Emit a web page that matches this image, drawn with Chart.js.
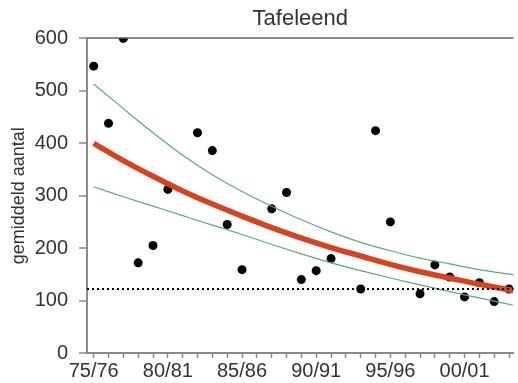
<!DOCTYPE html>
<html>
<head>
<meta charset="utf-8">
<script src="https://cdn.jsdelivr.net/npm/chart.js@4"></script>
<style>
  html, body { margin: 0; padding: 0; background: #fff; }
  #wrap { width: 518px; height: 383px; }
</style>
</head>
<body>
<div id="wrap"><canvas id="chart"></canvas></div>
<script>
const seasons = ['75/76','76/77','77/78','78/79','79/80','80/81','81/82','82/83','83/84','84/85',
  '85/86','86/87','87/88','88/89','89/90','90/91','91/92','92/93','93/94','94/95',
  '95/96','96/97','97/98','98/99','99/00','00/01','01/02','02/03','03/04']

// gemiddeld aantal per seizoen (null = geen telling)
const counts = [547, 438, 600, 172, 205, 312, null, 420, 386, 245,
  159, null, 275, 306, 140, 157, 180, null, 122, 424,
  250, null, 113, 168, 145, 107, 134, 98, 122]

const trendX = [0, 2, 4, 6, 8, 10, 12, 14, 16, 18, 20, 22, 24, 26, 28.3]
const trend = [400, 367, 337, 309, 284, 261, 239, 219, 201, 185, 169, 155, 143, 131, 119]
const upper = [513, 466, 420, 377, 340, 308, 280, 254, 231, 211, 195, 181, 170, 159, 149]
const lower = [317, 298, 280, 262, 244, 226, 207, 189, 172, 157, 143, 130, 117, 105, 91]

const refLevel = 122

const axisGrey = '#8a8a8a'
const textGrey = '#333'
const font = 'Liberation Sans, Arial, sans-serif'

const pts = counts.map((v, i) => ({x: i, y: v})).filter(p => p.y !== null)
const line = arr => arr.map((v, i) => ({x: trendX[i], y: v}))

new Chart(document.getElementById('chart'), {
  type: 'scatter',
  data: {
    datasets: [
      {
        data: [{x: -0.45, y: refLevel}, {x: 28.3, y: refLevel}],
        showLine: true, borderColor: '#000', borderWidth: 2, borderDash: [2, 3],
        pointRadius: 0
      },
      {
        data: line(upper), showLine: true, borderColor: '#5ea97a', borderWidth: 1.2,
        pointRadius: 0, cubicInterpolationMode: 'monotone'
      },
      {
        data: line(lower), showLine: true, borderColor: '#5ea97a', borderWidth: 1.2,
        pointRadius: 0, cubicInterpolationMode: 'monotone'
      },
      {
        data: line(trend), showLine: true, borderColor: '#d6441f', borderWidth: 5.5,
        pointRadius: 0, cubicInterpolationMode: 'monotone'
      },
      {
        data: pts, pointRadius: 4.5, pointBackgroundColor: '#000', pointBorderWidth: 0,
        borderWidth: 0
      }
    ]
  },
  options: {
    responsive: true,
    maintainAspectRatio: false,
    animation: false,
    layout: { padding: 0 },
    plugins: {
      legend: { display: false },
      tooltip: { enabled: false },
      title: {
        display: true, text: 'Tafeleend', fullSize: false, color: textGrey,
        font: { family: font, size: 22, weight: 'normal', lineHeight: 1.2 },
        padding: { top: 6, bottom: 6 }
      }
    },
    scales: {
      x: {
        type: 'linear', min: -0.45, max: 28.3,
        afterBuildTicks: s => { s.ticks = seasons.map((_, i) => ({value: i})) },
        afterFit: s => { s.height = 30 },
        border: { display: true, color: axisGrey, width: 2 },
        grid: { drawOnChartArea: false, drawTicks: true, tickLength: 5, tickColor: axisGrey, tickWidth: 1.5 },
        ticks: {
          autoSkip: false, maxRotation: 0, padding: 1, color: textGrey,
          font: { family: font, size: 20 },
          callback: v => (v % 5 === 0 ? seasons[v] : '')
        }
      },
      y: {
        min: 0, max: 600,
        afterFit: s => { s.width = 87 },
        border: { display: true, color: axisGrey, width: 2 },
        grid: {
          drawOnChartArea: true, drawTicks: true, tickLength: 8, tickWidth: 1.5, tickColor: axisGrey,
          lineWidth: 2,
          color: c => (c.tick && c.tick.value === 600 ? axisGrey : 'rgba(0,0,0,0)')
        },
        ticks: {
          stepSize: 100, padding: 11, color: textGrey,
          font: { family: font, size: 20 }
        },
        title: {
          display: true, text: 'gemiddeld aantal', color: textGrey,
          font: { family: font, size: 18 },
          padding: { top: 8, bottom: 0 }
        }
      }
    }
  }
})
</script>
</body>
</html>
